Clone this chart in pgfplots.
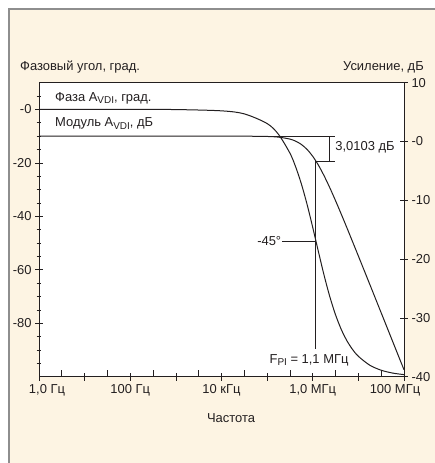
\documentclass[border=0pt]{standalone}
\usepackage{fontspec}
\setmainfont{Liberation Sans}
\usepackage{pgfplots}
\pgfplotsset{compat=1.18}
\definecolor{bgcream}{HTML}{FDF4E3}
\definecolor{framegray}{HTML}{8E8E8E}
\definecolor{ink}{HTML}{231F20}
\newcommand\lab{\fontsize{13}{15}\selectfont}
\newcommand\sub[1]{\raisebox{-0.35ex}{\fontsize{10}{10}\selectfont #1}}

\pgfplotsset{
  bodeframe/.style={
    at={(39bp,86.3bp)}, anchor=south west,
    scale only axis, width=365bp, height=294bp,
    tick align=center,
    major tick length=8bp, minor tick length=5bp,
    axis line style={ink, line width=0.8bp},
    every tick/.style={ink, line width=0.7bp},
    ticklabel style={font=\lab, text=ink},
  },
}

\begin{document}
\begin{tikzpicture}[font=\lab]
\path[use as bounding box] (0,0) rectangle (435bp,463bp);
\fill[bgcream] (8bp,0) rectangle (435bp,454bp);
\draw[framegray, line width=1.5bp] (8bp,454bp) -- (435bp,454bp);
\fill[framegray] (7.5bp,0) rectangle (10bp,455bp);

% phase axis (left) with both curves
\begin{axis}[bodeframe,
    xmode=log, xmin=1, xmax=1e8,
    axis background/.style={fill=white},
    ymin=-100, ymax=10,
    xtick={1,10,100,1000,1e4,1e5,1e6,1e7,1e8},
    xticklabels={{\hspace*{16bp}1,0 Гц},{},{100 Гц},{},{10 кГц},{},{1,0 МГц},{},{100 МГц\hspace*{18bp}}},
    xminorticks=false,
    extra x ticks={3.162,31.62,316.2,3162,31623,316228,3162278,31622777},
    extra x tick labels={},
    extra x tick style={major tick length=7bp, tick align=inside},
    xtick pos=bottom,
    ytick={-80,-60,-40,-20,0},
    yticklabels={-80,-60,-40,-20,-0},
    minor ytick={-95,-90,-85,-75,-70,-65,-55,-50,-45,-35,-30,-25,-15,-10,-5,5},
    ytick pos=left,
  ]
  % phase, in left axis units (0 deg -> 0, -90 deg -> -100)
  \addplot[ink, line width=1bp, smooth] coordinates {
    (1,0) (10,0) (100,0) (1000,-0.05) (1e4,-0.53) (3.162e4,-1.67)
    (1e5,-5.28) (1.778e5,-9.35) (3.162e5,-16.37) (4.217e5,-21.48)
    (5.623e5,-27.85) (7.499e5,-35.50) (1e6,-44.17) (1.334e6,-53.29)
    (1.778e6,-62.15) (2.371e6,-70.12) (3.162e6,-76.87) (4.217e6,-82.32)
    (5.623e6,-86.59) (7.499e6,-89.88) (1e7,-92.38) (1.778e7,-95.70)
    (3.162e7,-97.58) (5.623e7,-98.64) (1e8,-99.23)
  };
  % modulus
  \addplot[ink, line width=1bp, smooth] coordinates {
    (1,-10) (1e4,-10) (3.162e4,-10.01) (1e5,-10.12) (1.778e5,-10.36)
    (3.162e5,-11.10) (4.217e5,-11.87) (5.623e5,-13.10) (7.499e5,-14.96)
    (1e6,-17.55) (1.334e6,-20.88) (1.778e6,-24.87) (2.371e6,-29.35)
    (3.162e6,-34.16) (4.217e6,-39.19) (5.623e6,-44.34) (1e7,-54.85)
    (1.778e7,-65.45) (3.162e7,-76.10) (5.623e7,-86.76) (1e8,-97.41)
  };
  % 3 dB dimension
  \draw[ink, line width=0.8bp] (axis cs:1e5,-10) -- (axis cs:3.09e6,-10);
  \draw[ink, line width=0.8bp] (axis cs:1.175e6,-19.3) -- (axis cs:3.09e6,-19.3);
  \draw[ink, line width=0.8bp] (axis cs:2.32e6,-10) -- (axis cs:2.32e6,-19.3);
  \node[anchor=west, inner sep=0, text=ink] at (axis cs:3.1e6,-14.2) {3,0103 дБ};
  % F_PI marker
  \draw[ink, line width=0.9bp] (axis cs:1.175e6,-19.3) -- (axis cs:1.175e6,-89.5);
  \node[text=ink, inner sep=0] at (axis cs:8.3e5,-93.8) {F\sub{PI} = 1,1 МГц};
  % -45 degree leader
  \draw[ink, line width=0.8bp] (axis cs:2.14e5,-49.3) -- (axis cs:1.175e6,-49.3);
  \node[anchor=east, inner sep=0, text=ink] at (axis cs:2.05e5,-49.3) {-45°};
  % curve names
  \node[anchor=west, inner sep=0, text=ink] at (axis cs:2.24,4.2) {Фаза A\sub{VDI}, град.};
  \node[anchor=west, inner sep=0, text=ink] at (axis cs:2.24,-5.3) {Модуль A\sub{VDI}, дБ};
\end{axis}

% gain axis (right)
\begin{axis}[bodeframe,
    xmin=0, xmax=8,
    ymin=-40, ymax=10,
    axis x line=none, axis y line*=right,
    ytick={-40,-30,-20,-10,0,10},
    yticklabels={-40,-30,-20,-10,-0,10},
  ]
  \addplot[draw=none] coordinates {(1,0)};
\end{axis}

\node[anchor=west, inner sep=0, text=ink] at (20bp,396bp) {Фазовый угол, град.};
\node[anchor=east, inner sep=0, text=ink] at (424bp,396bp) {Усиление, дБ};
\node[inner sep=0, text=ink] at (231bp,45bp) {Частота};
\end{tikzpicture}
\end{document}
